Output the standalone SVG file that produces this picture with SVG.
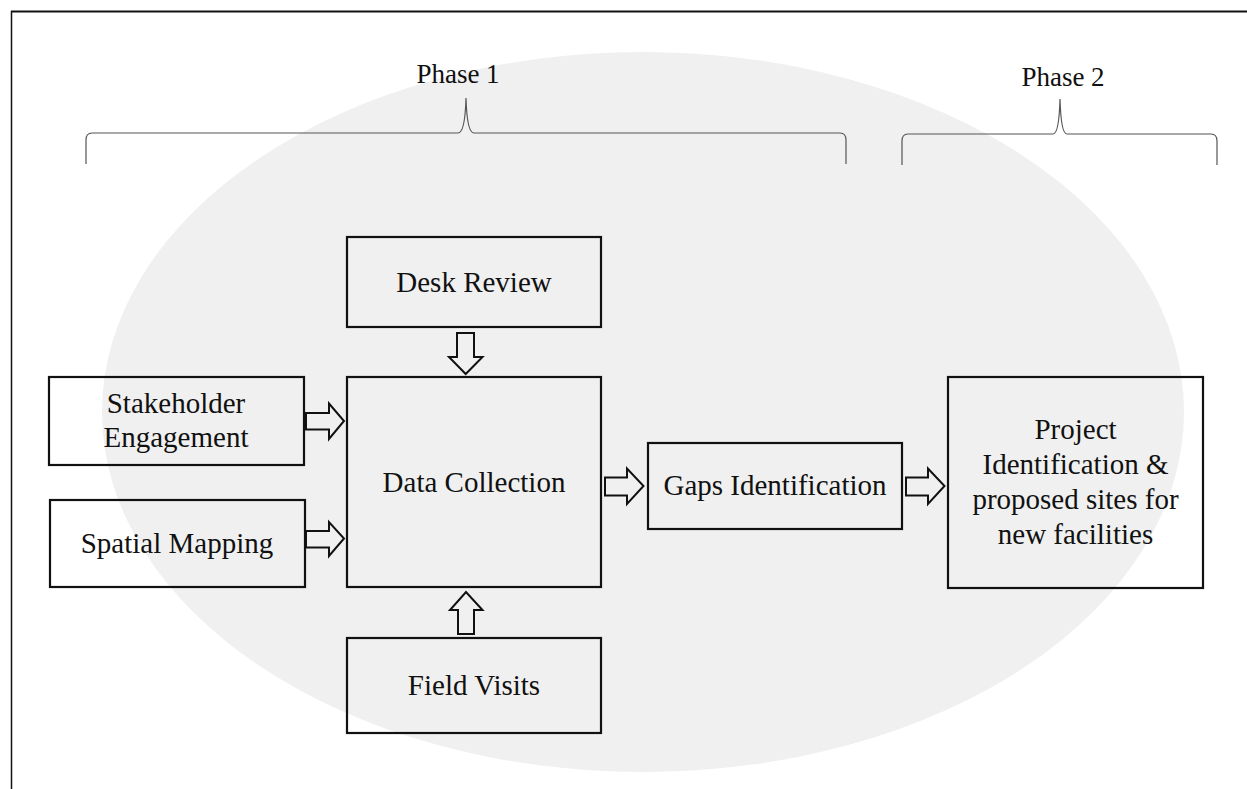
<svg xmlns="http://www.w3.org/2000/svg" width="1247" height="789" viewBox="0 0 1247 789">
<style>
.box{fill:none;stroke:#111;stroke-width:2.2}
.arr{fill:#f0f0f0;stroke:#111;stroke-width:2;stroke-linejoin:miter}
.brace{fill:none;stroke:#555;stroke-width:1.2}
text{font-family:"Liberation Serif","Times New Roman",serif;font-size:29px;fill:#111;text-anchor:middle}
.ph{font-size:27px}
</style>
<rect x="0" y="0" width="1247" height="789" fill="#ffffff"/>
<ellipse cx="643" cy="412" rx="541" ry="360" fill="#f0f0f0"/>
<g id="frame">
<line x1="11" y1="11.5" x2="1247" y2="11.5" stroke="#111" stroke-width="2"/>
<line x1="11.5" y1="11" x2="11.5" y2="789" stroke="#111" stroke-width="1.5"/>
</g>
<g id="phase1">
<path class="brace" d="M86,164 L86,140 Q86,133 92,133 L458,133 Q465,133 466,98 Q467,133 474,133 L840,133 Q846,133 846,140 L846,164"/>
<text class="ph" x="458" y="83">Phase 1</text>
</g>
<g id="phase2">
<path class="brace" d="M902,165 L902,141 Q902,134 908,134 L1053,134 Q1059,134 1060,99 Q1061,134 1067,134 L1211,134 Q1217,134 1217,141 L1217,165"/>
<text class="ph" x="1063" y="86">Phase 2</text>
</g>
<g id="desk-review">
<rect class="box" x="347" y="237" width="254" height="90"/>
<text x="474" y="292">Desk Review</text>
</g>
<g id="data-collection">
<rect class="box" x="347" y="377" width="254" height="210"/>
<text x="474" y="492">Data Collection</text>
</g>
<g id="stakeholder">
<rect class="box" x="49" y="377" width="255" height="88"/>
<text x="176" y="413">Stakeholder</text>
<text x="176" y="447">Engagement</text>
</g>
<g id="spatial-mapping">
<rect class="box" x="50" y="500" width="255" height="87"/>
<text x="177" y="553">Spatial Mapping</text>
</g>
<g id="field-visits">
<rect class="box" x="347" y="638" width="254" height="95"/>
<text x="474" y="695">Field Visits</text>
</g>
<g id="gaps">
<rect class="box" x="648" y="443" width="254" height="86"/>
<text x="775" y="495">Gaps Identification</text>
</g>
<g id="project">
<rect class="box" x="948" y="377" width="255" height="211"/>
<text x="1075.5" y="439">Project</text>
<text x="1075.5" y="474">Identification &amp;</text>
<text x="1075.5" y="509">proposed sites for</text>
<text x="1075.5" y="544">new facilities</text>
</g>
<g id="connectors">
<path class="arr" d="M457,333 L474,333 L474,357 L482.5,357 L465.7,374 L449,357 L457,357 Z"/>
<path class="arr" d="M458,634 L474,634 L474,610 L482.5,610 L466,592 L450,610 L458,610 Z"/>
<path class="arr" d="M306,413 L329,413 L329,403.5 L344,421 L329,439 L329,429.5 L306,429.5 Z"/>
<path class="arr" d="M306,531 L329,531 L329,522 L344,538.5 L329,556 L329,547.5 L306,547.5 Z"/>
<path class="arr" d="M605,477.5 L627,477.5 L627,468.5 L643.5,486 L627,504 L627,495.5 L605,495.5 Z"/>
<path class="arr" d="M906,477.5 L928,477.5 L928,468.5 L944.5,486 L928,504 L928,495.5 L906,495.5 Z"/>
</g>
</svg>
